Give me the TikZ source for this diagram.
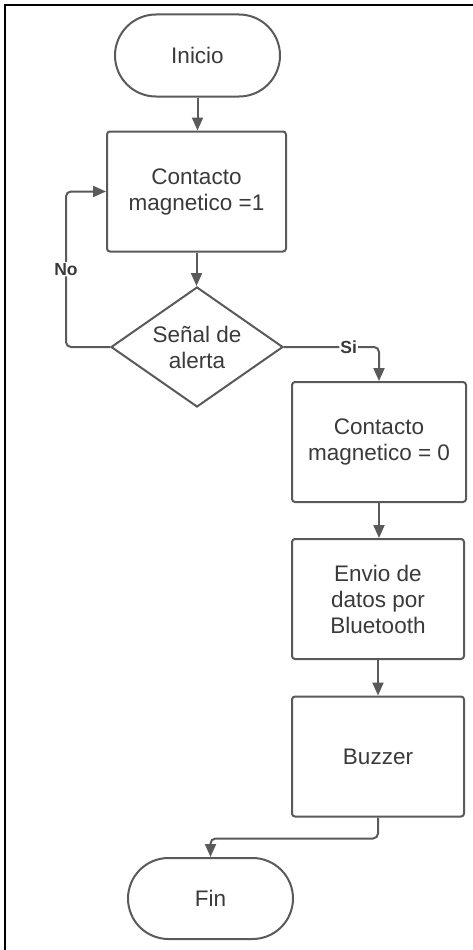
\documentclass[tikz,border=0pt]{standalone}
\usepackage{fontspec}
\setmainfont{Liberation Sans}
\usetikzlibrary{shapes.geometric,shapes.misc,arrows.meta}
\definecolor{ln}{HTML}{5A5A5A}
\definecolor{tx}{HTML}{3A3A3A}
\begin{document}
\begin{tikzpicture}[x=1pt,y=-1pt,
 base/.style={draw=ln, line width=2pt, text=tx, font=\fontsize{22.5}{26}\selectfont, align=center, inner sep=0pt},
 term/.style={base, rounded rectangle, minimum width=165pt, minimum height=82pt},
 proc/.style={base, rectangle, rounded corners=3pt, minimum width=174pt, minimum height=120pt},
 dec/.style={base, diamond, aspect=1.43, inner sep=-20pt, minimum width=172pt, minimum height=120pt},
 conn/.style={draw=ln, line width=2pt, rounded corners=5pt, -{Triangle[length=13pt,width=11pt]}},
 lbl/.style={font=\fontsize{17.5}{20}\bfseries\selectfont, text=tx, fill=white, inner sep=1pt}]
\useasboundingbox (0,0) rectangle (473,950);
\fill[white] (0,0) rectangle (473,950);
\draw[black, line width=2pt] (473,5) -- (5,5) -- (5,950);

\node[term] (ini) at (197.5,55.5) {Inicio};
\node[proc, minimum width=179pt] (c1) at (196.5,191.5) {Contacto\\magnetico =1};
\node[dec] (sd) at (197,347) {Señal de\\alerta};
\node[proc] (c0) at (379,442) {Contacto\\magnetico = 0};
\node[proc, minimum width=172pt] (env) at (378,599) {Envio de\\datos por\\Bluetooth};
\node[proc, minimum width=172pt] (buz) at (378,756.5) {Buzzer};
\node[term, minimum height=81pt] (fin) at (210.5,898.5) {Fin};

\draw[conn] (ini.south) -- (ini.south |- c1.north);
\draw[conn] (c1.south) -- (c1.south |- sd.north);
\draw[conn] (sd.west) -- (66,347) |- (c1.west) node[lbl, pos=0.25] {No};
\draw[conn] (sd.east) -| (c0.north) node[lbl, pos=0.34] {Si};
\draw[conn] (c0.south) -- (c0.south |- env.north);
\draw[conn] (env.south) -- (env.south |- buz.north);
\draw[conn] (buz.south) -- ++(0,21) -| (fin.north);
\end{tikzpicture}
\end{document}
